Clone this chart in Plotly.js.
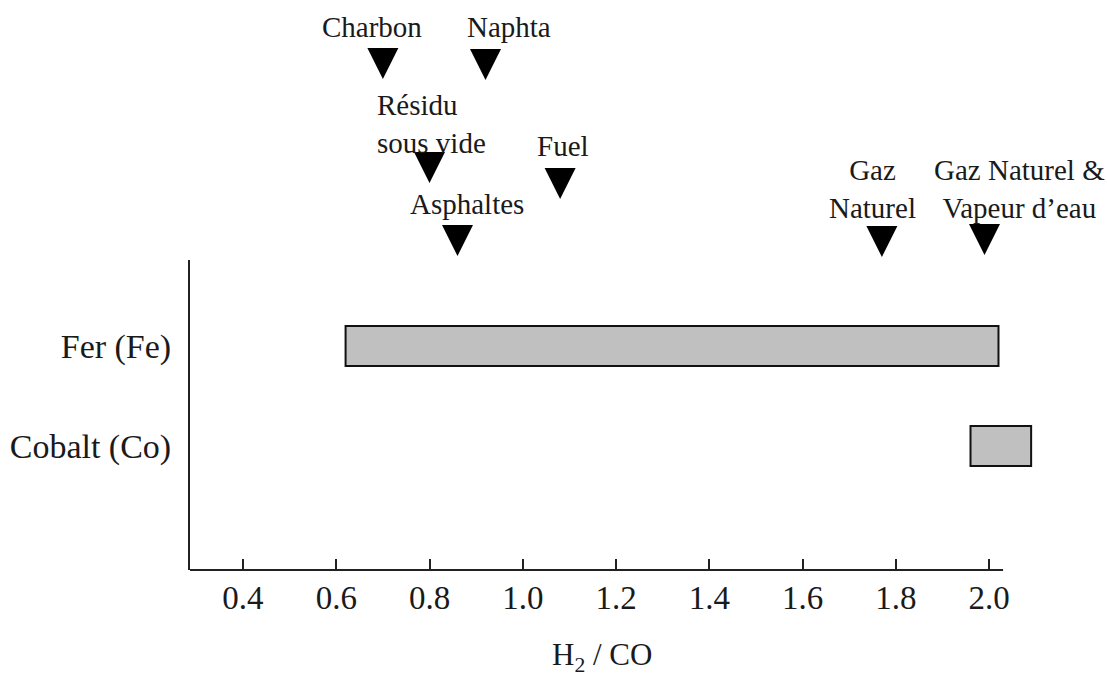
<!DOCTYPE html>
<html>
<head>
<meta charset="utf-8">
<script src="https://cdn.plot.ly/plotly-3.0.1.min.js"></script>
<style>html,body{margin:0;padding:0;background:#fff;}#chart{width:1107px;height:680px;}</style>
</head>
<body>
<div id="chart"></div>
<script>
// Catalysts and their H2/CO operating ranges
const catalysts = ["Fer (Fe)", "Cobalt (Co)"];
const rangeStart = [0.62, 1.96];
const rangeEnd = [2.02, 2.09];

// Feedstocks: H2/CO ratio pointed at by each arrow
const feedLabels = ["Charbon", "Naphta", "Résidu<br>sous vide", "Fuel", "Asphaltes", "Gaz<br>Naturel", "Gaz Naturel &<br>Vapeur d’eau"];
const feedRatio = [0.70, 0.92, 0.80, 1.08, 0.86, 1.77, 1.99];
// vertical level (row) of each arrow tip and label in the header band
const arrowLevel = [79, 80, 183, 199, 256, 257, 255];
const labelRatio = [0.677, 0.970, 0.683, 1.086, 0.880, 1.750, 2.066];
const labelLevel = [27, 27, 124, 146, 204, 189, 189];
const labelAnchor = ["center", "center", "left", "center", "center", "center", "center"];

const xTicks = [0.4, 0.6, 0.8, 1.0, 1.2, 1.4, 1.6, 1.8, 2.0];
const xTickText = ["0.4", "0.6", "0.8", "1.0", "1.2", "1.4", "1.6", "1.8", "2.0"];
const xTitle = "H<sub>2</sub> / CO";

const serif = "'Liberation Serif', 'Times New Roman', serif";
const ink = "#1a1a1a";

const barTrace = {
  type: "bar",
  orientation: "h",
  y: catalysts,
  base: rangeStart,
  x: rangeEnd.map((e, i) => e - rangeStart[i]),
  width: 0.4,
  marker: { color: "#c0c0c0", line: { color: "#111", width: 2 } },
  xaxis: "x", yaxis: "y",
  hoverinfo: "skip",
  showlegend: false
};

const arrowTrace = {
  type: "scatter",
  mode: "markers",
  x: feedRatio,
  y: arrowLevel,
  xaxis: "x", yaxis: "y2",
  marker: { symbol: "arrow-down", size: 31, color: "#000", line: { width: 0 } },
  cliponaxis: false,
  hoverinfo: "skip",
  showlegend: false
};

const annotations = feedLabels.map((t, i) => ({
  text: t,
  x: labelRatio[i], y: labelLevel[i],
  xref: "x", yref: "y2",
  xanchor: labelAnchor[i] === "left" ? "left" : "center",
  yanchor: "middle",
  align: labelAnchor[i],
  showarrow: false,
  font: { family: serif, size: 29, color: ink }
}));

// axis title, centred under the drawn part of the axis line
annotations.push({
  text: xTitle,
  x: 0.4847, xref: "paper",
  y: -0.152, yref: "paper",
  xanchor: "center", yanchor: "middle",
  showarrow: false,
  font: { family: serif, size: 31, color: ink }
});

const layout = {
  width: 1107, height: 680,
  margin: { l: 190, r: 67, t: 0, b: 110 },
  paper_bgcolor: "#fff", plot_bgcolor: "#fff",
  showlegend: false,
  bargap: 0,
  xaxis: {
    range: [0.2864, 2.109],
    anchor: "y",
    tickvals: xTicks, ticktext: xTickText,
    ticks: "inside", ticklen: 11, tickwidth: 2, tickcolor: "#222",
    showline: false, showgrid: false, zeroline: false,
    tickfont: { family: serif, size: 33, color: ink },
    ticklabelstandoff: 5,
    automargin: false,
    fixedrange: true
  },
  yaxis: {
    domain: [0, 0.5439],
    type: "category",
    categoryorder: "array", categoryarray: catalysts,
    range: [2.24, -0.86],
    showline: true, linewidth: 2, linecolor: "#222",
    ticks: "", showgrid: false, zeroline: false,
    tickfont: { family: serif, size: 34, color: ink },
    ticklabelstandoff: 10,
    automargin: false,
    fixedrange: true
  },
  yaxis2: {
    domain: [0.5439, 1],
    range: [260, 0],
    anchor: "x",
    visible: false,
    showgrid: false, zeroline: false,
    fixedrange: true
  },
  shapes: [{
    type: "line", xref: "paper", yref: "paper",
    x0: 0, x1: 0.9565, y0: 0, y1: 0,
    line: { color: "#222", width: 2 }
  }],
  annotations: annotations
};

Plotly.newPlot("chart", [barTrace, arrowTrace], layout, { displayModeBar: false, staticPlot: true });
</script>
</body>
</html>
